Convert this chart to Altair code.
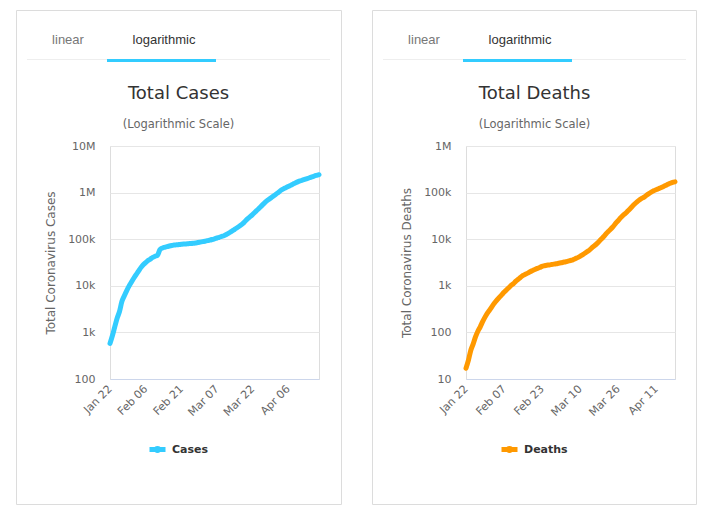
import altair as alt
import pandas as pd

# ---------------- data ----------------
dates = pd.date_range("2020-01-22", "2020-04-19", freq="D").strftime("%Y-%m-%d").tolist()

cases = [
    580, 845, 1317, 2015, 2800, 4581, 6058, 7813, 9823, 11950,
    14553, 17391, 20630, 24545, 28266, 31439, 34876, 37552, 40553, 43099,
    45134, 59287, 64438, 67100, 69197, 71329, 73332, 75184, 75700, 76677,
    77673, 78651, 79205, 80087, 80828, 81820, 83112, 84615, 86604,
    88585, 90443, 93016, 95314, 98425, 102050, 106099, 109991, 114381, 118948,
    126214, 134576, 145483, 156653, 169593, 182490, 198234, 218822, 246198, 275799,
    305036, 337489, 378830, 422574, 471035, 531865, 596366, 663127, 723390, 784794,
    858371,
    935197, 1016128, 1118921, 1201483, 1272115, 1346299, 1429516, 1518614, 1603719,
    1699595, 1780315, 1852365, 1923937, 1999078, 2083304, 2178036, 2264227, 2344003,
    2422526,
]

deaths = [
    17, 25, 41, 56, 80, 106, 132, 170, 213, 259,
    304, 362, 426, 492, 565, 638, 724, 813, 910, 1018,
    1115, 1261, 1383, 1526, 1669, 1775, 1873, 2009, 2126, 2247,
    2360, 2460, 2618, 2699, 2763, 2800, 2858, 2923, 2977,
    3050, 3117, 3202, 3285, 3387, 3494, 3599, 3827, 4025, 4296,
    4628, 4981, 5428, 5835, 6518, 7160, 7959, 8933, 10057, 11436,
    13092, 14770, 16595, 18771, 21928, 24899, 28425, 32135, 35315, 39625,
    44654,
    50500, 56838, 63161, 69560, 74930, 80155, 87831, 95056, 102402,
    109305, 115348, 120932, 126797, 134238, 141823, 150235, 158703, 165093,
    170328,
]

cases_xticks = ["2020-01-22", "2020-02-06", "2020-02-21", "2020-03-07", "2020-03-22", "2020-04-06"]
deaths_xticks = ["2020-01-22", "2020-02-07", "2020-02-23", "2020-03-10", "2020-03-26", "2020-04-11"]
cases_yticks = [100, 1000, 10000, 100000, 1000000, 10000000]
deaths_yticks = [10, 100, 1000, 10000, 100000, 1000000]

tab_labels = ["linear", "logarithmic"]
subtitle = "(Logarithmic Scale)"


def ms(d):
    return int(pd.Timestamp(d, tz="UTC").value // 10**6)


W, H = 209, 233
FONT = "DejaVu Sans"
TAB_FONT = "Liberation Sans"
BLUE = "#33ccff"
ORANGE = "#ff9900"

LABEL_EXPR = (
    "datum.value >= 1000000 ? format(datum.value / 1000000, 'd') + 'M' : "
    "datum.value >= 1000 ? format(datum.value / 1000, 'd') + 'k' : format(datum.value, 'd')"
)


def one(s):
    return pd.DataFrame({"t": [s]})


def panel(values, series, color, ytitle, ydomain, yticks, xticks, title, legend_x, right):
    df = pd.DataFrame({"date": dates, "value": values, "series": series})

    border = alt.Chart(one("")).mark_rect(
        fillOpacity=0, stroke="#dcdcdc", strokeWidth=1
    ).encode(
        x=alt.value(-93.5), x2=alt.value(right), y=alt.value(-135.5), y2=alt.value(358.5)
    )
    sep = alt.Chart(one("")).mark_rule(color="#eeeeee", strokeWidth=1).encode(
        x=alt.value(-83), x2=alt.value(220), y=alt.value(-86.5)
    )
    underline = alt.Chart(one("")).mark_rect(color=BLUE).encode(
        x=alt.value(-3), x2=alt.value(106), y=alt.value(-87), y2=alt.value(-84)
    )
    tab1 = alt.Chart(one(tab_labels[0])).mark_text(
        font=TAB_FONT, fontSize=13, color="#777777", align="center", baseline="middle"
    ).encode(x=alt.value(-42), y=alt.value(-106), text="t:N")
    tab2 = alt.Chart(one(tab_labels[1])).mark_text(
        font=TAB_FONT, fontSize=13, color="#333333", align="center", baseline="middle"
    ).encode(x=alt.value(54), y=alt.value(-106), text="t:N")
    ttl = alt.Chart(one(title)).mark_text(
        font=FONT, fontSize=18, color="#333333", align="center", baseline="middle"
    ).encode(x=alt.value(68.5), y=alt.value(-52), text="t:N")
    sub = alt.Chart(one(subtitle)).mark_text(
        font=FONT, fontSize=11.5, color="#666666", align="center", baseline="middle"
    ).encode(x=alt.value(68.5), y=alt.value(-21.5), text="t:N")

    line = alt.Chart(df).mark_line(
        interpolate="monotone", strokeWidth=5, strokeCap="round", strokeJoin="round"
    ).encode(
        x=alt.X(
            "date:T",
            scale=alt.Scale(type="utc", domain=[ms(dates[0]), ms(dates[-1])], nice=False),
            axis=alt.Axis(
                title=None,
                values=[ms(d) for d in xticks],
                labelExpr="utcFormat(datum.value, '%b %d')",
                labelAngle=-45,
                labelAlign="right",
                labelBaseline="middle",
                labelPadding=8,
                labelFont=FONT,
                labelFontSize=11,
                labelColor="#666666",
                ticks=False,
                grid=False,
                domain=True,
                domainColor="#ccd6eb",
                domainWidth=1,
                labelOverlap=False,
            ),
        ),
        y=alt.Y(
            "value:Q",
            scale=alt.Scale(type="log", domain=ydomain, nice=False),
            axis=alt.Axis(
                title=ytitle,
                values=yticks,
                labelExpr=LABEL_EXPR,
                labelFont=FONT,
                labelFontSize=11,
                labelColor="#666666",
                labelPadding=15,
                ticks=False,
                domain=False,
                grid=True,
                gridColor="#e6e6e6",
                gridWidth=1,
                titleFont=FONT,
                titleFontSize=12,
                titleFontWeight="normal",
                titleColor="#666666",
                titlePadding=10,
                labelOverlap=False,
            ),
        ),
        color=alt.Color(
            "series:N",
            scale=alt.Scale(domain=[series], range=[color]),
            legend=alt.Legend(
                title=None,
                orient="none",
                legendX=legend_x,
                legendY=293,
                direction="horizontal",
                symbolType="M-1,0L1,0M-0.12,0A0.12,0.12 0 1,0 0.12,0A0.12,0.12 0 1,0 -0.12,0",
                symbolSize=256,
                symbolStrokeWidth=5,
                labelFont=FONT,
                labelFontSize=11,
                labelFontWeight="bold",
                labelColor="#333333",
                labelOffset=4,
                padding=0,
            ),
        ),
    )

    return alt.layer(border, sep, underline, tab1, tab2, ttl, sub, line).properties(
        width=W, height=H
    )


left = panel(cases, "Cases", BLUE, "Total Coronavirus Cases", [100, 10000000],
             cases_yticks, cases_xticks, "Total Cases", 37, 231.5)
right = panel(deaths, "Deaths", ORANGE, "Total Coronavirus Deaths", [10, 1000000],
              deaths_yticks, deaths_xticks, "Total Deaths", 33, 230.5)

chart = alt.hconcat(left, right, spacing=28).resolve_scale(
    x="independent", y="independent", color="independent"
).properties(
    padding={"left": 15, "top": 9, "right": 0, "bottom": 0},
    background="white",
).configure_view(strokeWidth=0).configure(font=FONT)

chart.save("out.html", embed_options={"renderer": "svg", "actions": False})
